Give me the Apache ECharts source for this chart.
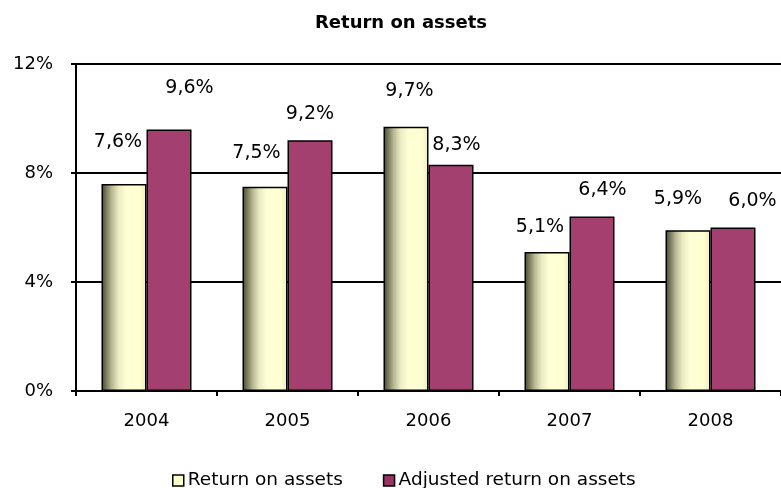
<!DOCTYPE html>
<html>
<head>
<meta charset="utf-8">
<script src="https://cdn.jsdelivr.net/npm/echarts@6/dist/echarts.min.js"></script>
<style>html,body{margin:0;padding:0;background:#fff}#c{width:781px;height:488px}</style>
</head>
<body>
<div id="c"></div>
<script>
var categories = ['2004', '2005', '2006', '2007', '2008'];
var returnOnAssets = [7.6, 7.5, 9.7, 5.1, 5.9];
var adjustedReturn = [9.6, 9.2, 8.3, 6.4, 6.0];
var yTicks = { min: 0, max: 12, interval: 4 };

// label placement (pixels relative to each bar's top centre)
var roaLabelDx = [-6, -8.5, 3.5, -7, -10];
var roaLabelUp = [42, 34, 35.5, 25, 31];
var adjLabelDx = [20.5, 0, 5.5, 10.5, 19.5];
var adjLabelUp = [41, 26, 20, 27, 26];

var FONT = 'DejaVu Sans';
function fmt(v) { return v.toFixed(1).replace('.', ',') + '%'; }
function build(vals, dx, up) {
  return vals.map(function (v, i) {
    return { value: v, label: { offset: [dx[i], -up[i]] } };
  });
}

var yellowFill = new echarts.graphic.LinearGradient(0, 0, 1, 0, [
  { offset: 0, color: '#45452f' },
  { offset: 0.1, color: '#77775a' },
  { offset: 0.22, color: '#b5b590' },
  { offset: 0.38, color: '#ececc4' },
  { offset: 0.55, color: '#ffffd6' },
  { offset: 0.85, color: '#ffffd2' },
  { offset: 1, color: '#ececbd' }
]);

var labelCommon = {
  show: true, position: 'top', distance: 0, verticalAlign: 'middle', align: 'center',
  fontFamily: FONT, fontSize: 19, color: '#000',
  formatter: function (p) { return fmt(p.value); }
};

var chart = echarts.init(document.getElementById('c'), null, { renderer: 'canvas' });
chart.setOption({
  animation: false,
  backgroundColor: '#fff',
  title: {
    text: 'Return on assets', left: 310, top: 9,
    textStyle: { fontFamily: FONT, fontSize: 18, fontWeight: 'bold', color: '#000' }
  },
  legend: {
    left: 172, top: 471, padding: 0, itemWidth: 11, itemHeight: 11, itemGap: 40,
    textStyle: { fontFamily: FONT, fontSize: 18.5, color: '#000', padding: [0, 0, 0, -1] },
    data: [
      { name: 'Return on assets', icon: 'rect', itemStyle: { color: '#ffffcc', borderColor: '#000', borderWidth: 1.5 } },
      { name: 'Adjusted return on assets', icon: 'rect', itemStyle: { color: '#993366', borderColor: '#000', borderWidth: 1.5 } }
    ]
  },
  grid: { left: 76, top: 64, width: 710, height: 327, containLabel: false },
  xAxis: {
    type: 'category', data: categories,
    axisLine: { lineStyle: { color: '#000', width: 2 } },
    axisTick: { show: true, length: 5, lineStyle: { color: '#000', width: 2 } },
    axisLabel: { fontFamily: FONT, fontSize: 18, color: '#000', margin: 21 }
  },
  yAxis: {
    type: 'value', min: yTicks.min, max: yTicks.max, interval: yTicks.interval,
    axisLine: { show: true, lineStyle: { color: '#000', width: 2 } },
    axisTick: { show: true, length: 5, lineStyle: { color: '#000', width: 2 } },
    axisLabel: { fontFamily: FONT, fontSize: 18, color: '#000', margin: 23, formatter: '{value}%' },
    splitLine: { show: true, lineStyle: { color: '#000', width: 2 } }
  },
  series: [
    {
      name: 'Return on assets', type: 'bar', barWidth: 45, barGap: '0%',
      data: build(returnOnAssets, roaLabelDx, roaLabelUp),
      itemStyle: { color: yellowFill, borderColor: '#000', borderWidth: 1.5 },
      label: labelCommon
    },
    {
      name: 'Adjusted return on assets', type: 'bar', barWidth: 45, barGap: '0%',
      data: build(adjustedReturn, adjLabelDx, adjLabelUp),
      itemStyle: { color: '#a3406f', borderColor: '#000', borderWidth: 1.5 },
      label: labelCommon
    }
  ]
});
</script>
</body>
</html>
